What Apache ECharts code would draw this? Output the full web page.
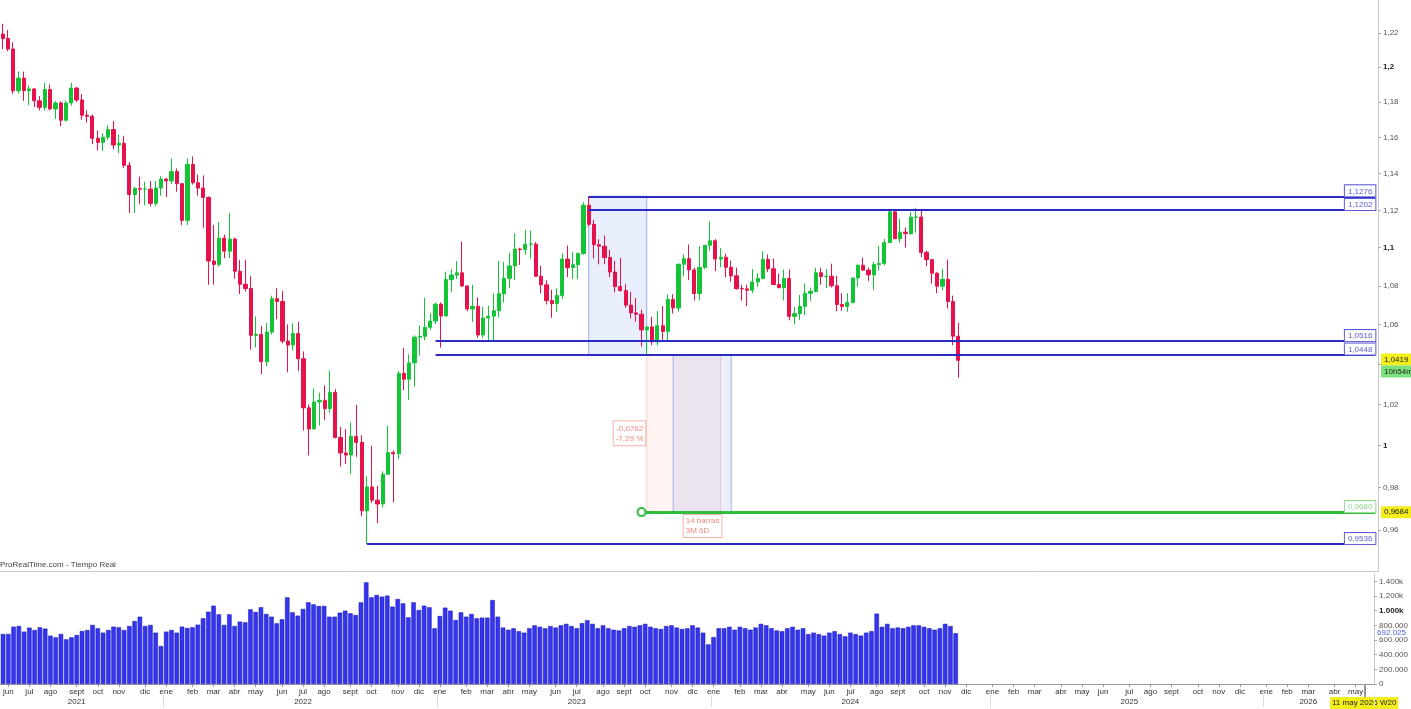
<!DOCTYPE html>
<html>
<head>
<meta charset="utf-8">
<title>EUR/USD semanal</title>
<script src="https://cdn.jsdelivr.net/npm/echarts@6/dist/echarts.min.js"></script>
<style>
  html, body { margin: 0; padding: 0; background: #fff; }
  #main { width: 1411px; height: 709px; }
</style>
</head>
<body>
<div id="main"></div>
<script>
// velas semanales, primera semana 31 may 2021 (lunes)
var firstWeek = '2021-05-31';
var totalWeeks = 261; // eje hasta mayo 2026

var opens = [
  1.2193,1.2167,1.2106,1.1864,1.1937,1.1865,1.1875,1.1807,1.1770,1.1871,
  1.1761,1.1795,1.1697,1.1795,1.1880,1.1812,1.1725,1.1719,1.1596,1.1573,
  1.1602,1.1645,1.1558,1.1568,1.1446,1.1286,1.1318,1.1315,1.1315,1.1238,
  1.1321,1.1370,1.1360,1.1411,1.1345,1.1146,1.1450,1.1350,1.1321,1.1270,
  1.0930,1.0912,1.1051,1.0982,1.1046,1.0876,1.0808,1.0786,1.0545,1.0550,
  1.0412,1.0562,1.0733,1.0719,1.0516,1.0496,1.0554,1.0427,1.0183,1.0080,
  1.0212,1.0220,1.0180,1.0259,1.0039,0.9964,0.9954,1.0044,1.0015,0.9690,
  0.9802,0.9740,0.9722,0.9862,0.9966,0.9960,1.0354,1.0325,1.0406,1.0536,
  1.0540,1.0586,1.0618,1.0705,1.0644,1.0832,1.0856,1.0868,1.0799,1.0680,
  1.0694,1.0547,1.0634,1.0643,1.0671,1.0759,1.0839,1.0904,1.0993,1.0991,
  1.1019,1.1019,1.0850,1.0805,1.0723,1.0708,1.0750,1.0940,1.0895,1.0910,
  1.0969,1.1228,1.1125,1.1016,1.1008,1.0948,1.0872,1.0796,1.0775,1.0700,
  1.0660,1.0653,1.0573,1.0588,1.0512,1.0594,1.0565,1.0729,1.0685,1.0913,
  1.0942,1.0883,1.0760,1.0896,1.1013,1.1037,1.0940,1.0950,1.0897,1.0852,
  1.0785,1.0784,1.0777,1.0820,1.0838,1.0938,1.0889,1.0807,1.0790,1.0838,
  1.0642,1.0656,1.0693,1.0761,1.0771,1.0868,1.0848,1.0850,1.0800,1.0703,
  1.0693,1.0713,1.0841,1.0908,1.0882,1.0857,1.0911,1.0917,1.1027,1.1192,
  1.1048,1.1083,1.1075,1.1163,1.1164,1.0975,1.0937,1.0866,1.0798,1.0834,
  1.0719,1.0541
];
var highs = [
  1.2254,1.2218,1.2145,1.1975,1.1975,1.1895,1.1880,1.1834,1.1909,1.1900,
  1.1805,1.1805,1.1809,1.1909,1.1885,1.1846,1.1753,1.1730,1.1640,1.1624,
  1.1669,1.1692,1.1616,1.1610,1.1464,1.1328,1.1383,1.1355,1.1360,1.1360,
  1.1386,1.1376,1.1483,1.1428,1.1346,1.1484,1.1495,1.1395,1.1390,1.1275,
  1.1121,1.1137,1.1070,1.1185,1.1054,1.0935,1.0937,1.0850,1.0642,1.0593,
  1.0607,1.0749,1.0787,1.0774,1.0601,1.0606,1.0615,1.0464,1.0200,1.0278,
  1.0258,1.0294,1.0368,1.0275,1.0090,1.0079,1.0112,1.0198,1.0050,0.9853,
  0.9999,0.9807,0.9876,1.0094,0.9976,1.0364,1.0481,1.0449,1.0545,1.0595,
  1.0737,1.0658,1.0713,1.0713,1.0874,1.0887,1.0929,1.1033,1.0802,1.0805,
  1.0740,1.0691,1.0697,1.0760,1.0930,1.0925,1.0973,1.1076,1.1000,1.1095,
  1.1092,1.1030,1.0905,1.0829,1.0779,1.0787,1.0970,1.1012,1.0976,1.0975,
  1.1244,1.1276,1.1149,1.1045,1.1065,1.0988,1.0930,1.0945,1.0809,1.0768,
  1.0737,1.0677,1.0590,1.0640,1.0669,1.0695,1.0756,1.0756,1.0914,1.0965,
  1.1017,1.0895,1.1009,1.1013,1.1140,1.1046,1.0998,1.0968,1.0932,1.0895,
  1.0805,1.0805,1.0888,1.0866,1.0981,1.0964,1.0942,1.0865,1.0885,1.0885,
  1.0690,1.0752,1.0812,1.0791,1.0895,1.0895,1.0888,1.0916,1.0852,1.0761,
  1.0762,1.0843,1.0910,1.0948,1.0895,1.0926,1.1009,1.1047,1.1202,1.1201,
  1.1155,1.1108,1.1190,1.1214,1.1209,1.0985,1.0940,1.0871,1.0888,1.0937,
  1.0749,1.0609
];
var lows = [
  1.2104,1.2093,1.1847,1.1848,1.1807,1.1782,1.1772,1.1752,1.1752,1.1753,
  1.1705,1.1664,1.1690,1.1780,1.1800,1.1700,1.1684,1.1563,1.1529,1.1525,
  1.1586,1.1535,1.1513,1.1432,1.1186,1.1186,1.1235,1.1227,1.1222,1.1221,
  1.1279,1.1272,1.1342,1.1301,1.1121,1.1121,1.1340,1.1280,1.1106,1.0806,
  1.0806,1.0900,1.0944,1.0945,1.0837,1.0757,1.0770,1.0472,1.0483,1.0350,
  1.0389,1.0549,1.0627,1.0505,1.0359,1.0469,1.0366,1.0072,0.9952,1.0079,
  1.0097,1.0123,1.0159,1.0034,0.9899,0.9911,0.9864,0.9945,0.9666,0.9536,
  0.9727,0.9632,0.9705,0.9860,0.9730,0.9935,1.0270,1.0223,1.0289,1.0443,
  1.0519,1.0573,1.0603,1.0483,1.0643,1.0766,1.0835,1.0795,1.0669,1.0613,
  1.0533,1.0533,1.0516,1.0516,1.0636,1.0713,1.0788,1.0831,1.0909,1.0964,
  1.0942,1.0847,1.0760,1.0703,1.0635,1.0666,1.0731,1.0845,1.0835,1.0834,
  1.0963,1.1113,1.0943,1.0912,1.0913,1.0845,1.0766,1.0770,1.0686,1.0631,
  1.0615,1.0488,1.0448,1.0495,1.0495,1.0522,1.0516,1.0656,1.0667,1.0852,
  1.0829,1.0723,1.0724,1.0887,1.0986,1.0877,1.0897,1.0844,1.0822,1.0780,
  1.0723,1.0695,1.0762,1.0795,1.0834,1.0872,1.0803,1.0788,1.0724,1.0622,
  1.0601,1.0624,1.0650,1.0723,1.0766,1.0805,1.0788,1.0791,1.0668,1.0671,
  1.0666,1.0710,1.0796,1.0878,1.0825,1.0777,1.0881,1.0907,1.1025,1.1047,
  1.1026,1.1001,1.1068,1.1081,1.0950,1.0903,1.0811,1.0761,1.0778,1.0682,
  1.0496,1.0332
];
var closes = [
  1.2167,1.2106,1.1864,1.1937,1.1865,1.1875,1.1807,1.1770,1.1871,1.1761,
  1.1795,1.1697,1.1795,1.1880,1.1812,1.1725,1.1719,1.1596,1.1573,1.1602,
  1.1645,1.1558,1.1568,1.1446,1.1286,1.1318,1.1315,1.1315,1.1238,1.1321,
  1.1370,1.1360,1.1411,1.1345,1.1146,1.1450,1.1350,1.1321,1.1270,1.0930,
  1.0912,1.1051,1.0982,1.1046,1.0876,1.0808,1.0786,1.0545,1.0550,1.0412,
  1.0562,1.0733,1.0719,1.0516,1.0496,1.0554,1.0427,1.0183,1.0080,1.0212,
  1.0220,1.0180,1.0259,1.0039,0.9964,0.9954,1.0044,1.0015,0.9690,0.9802,
  0.9740,0.9722,0.9862,0.9966,0.9960,1.0354,1.0325,1.0406,1.0536,1.0540,
  1.0586,1.0618,1.0705,1.0644,1.0832,1.0856,1.0868,1.0799,1.0680,1.0694,
  1.0547,1.0634,1.0643,1.0671,1.0759,1.0839,1.0904,1.0993,1.0991,1.1019,
  1.1019,1.0850,1.0805,1.0723,1.0708,1.0750,1.0940,1.0895,1.0910,1.0969,
  1.1228,1.1125,1.1016,1.1008,1.0948,1.0872,1.0796,1.0775,1.0700,1.0660,
  1.0653,1.0573,1.0588,1.0512,1.0594,1.0565,1.0729,1.0685,1.0913,1.0942,
  1.0883,1.0760,1.0896,1.1013,1.1037,1.0940,1.0950,1.0897,1.0852,1.0785,
  1.0784,1.0777,1.0820,1.0838,1.0938,1.0889,1.0807,1.0790,1.0838,1.0642,
  1.0656,1.0693,1.0761,1.0771,1.0868,1.0848,1.0850,1.0800,1.0703,1.0693,
  1.0713,1.0841,1.0908,1.0882,1.0857,1.0911,1.0917,1.1027,1.1192,1.1048,
  1.1083,1.1075,1.1163,1.1164,1.0975,1.0937,1.0866,1.0798,1.0834,1.0719,
  1.0541,1.0419
];
// volumen en miles
var volumes = [
  682,682,782,791,714,768,736,773,755,659,
  636,682,609,636,668,723,736,805,759,700,
  736,782,773,736,791,859,918,791,805,700,
  518,714,736,700,782,764,773,809,896,986,
  1068,950,805,950,791,850,841,1018,982,1046,
  955,918,827,882,1182,977,932,1023,1114,1086,
  1064,1064,918,918,973,1000,964,941,1114,1386,
  1182,1214,1191,1205,1055,1159,1100,909,1114,1009,
  1068,1046,759,927,1041,1000,873,977,918,955,
  896,905,905,1145,918,770,740,760,720,700,
  760,800,780,760,790,770,800,820,790,760,
  830,870,820,760,800,760,740,730,760,790,
  780,800,820,780,760,750,790,800,770,750,
  760,800,770,700,540,640,760,760,780,740,
  780,760,740,770,820,800,760,730,720,760,
  780,740,760,680,700,680,660,700,720,680,
  650,700,680,660,700,720,960,780,820,760,
  770,760,780,800,800,780,760,740,760,820,
  790,692
];

var months = ['ene','feb','mar','abr','may','jun','jul','ago','sept','oct','nov','dic'];
var yearUnder = { 2021: 8, 2022: 6, 2023: 6, 2024: 6, 2025: 6, 2026: 2 };

var priceTicks = [0.96,0.98,1,1.02,1.04,1.06,1.08,1.1,1.12,1.14,1.16,1.18,1.2,1.22,1.24];
var priceLabels = [0.96,0.98,1,1.02,1.06,1.08,1.1,1.12,1.14,1.16,1.18,1.2,1.22,1.24];
var volTicks = [0,200,400,600,800,1000,1200,1400];

var levelPrices = [1.1276, 1.1202, 1.0516, 1.0448, 0.9536];
var levelStart = [111, 111, 82, 82, 69];
var targetPrice = 0.9684, targetStart = 121, targetText = '0,9680';
var lastPrice = 1.0419, timeLeft = '10h54m';
var lastVolume = '692.025';
var cursorText = '11 may 2026 W20';

// categorias: lunes de cada semana
var weeks = [];
var t0 = Date.parse(firstWeek + 'T00:00:00Z');
for (var i = 0; i < totalWeeks; i++) {
  weeks.push(new Date(t0 + i * 7 * 86400000).toISOString().slice(0, 10));
}
function isMonthStart(i) {
  return +weeks[i].slice(8, 10) <= 7;
}
function isYearStart(i) {
  return weeks[i].slice(5, 7) === '01' && isMonthStart(i);
}
function fmt(p) { return p.toFixed(4).replace('.', ','); }

var ln = Math.log;
var candles = opens.map(function (o, i) {
  return [ln(o), ln(closes[i]), ln(lows[i]), ln(highs[i])];
});
var lastIdx = totalWeeks - 1;

var blue = '#2a2ac4';
var hidden = { color: 'rgba(0,0,0,0)', width: 0 };
var boxLabel = function (txt, col) {
  return {
    show: true, position: 'insideEndTop', distance: 0,
    formatter: txt, color: col, fontSize: 8,
    backgroundColor: '#fff', borderColor: col, borderWidth: 1,
    padding: [2, 3, 1, 3]
  };
};

var levelLines = levelPrices.map(function (p, i) {
  return [
    { coord: [levelStart[i], ln(p)], lineStyle: { color: blue, width: 2, type: 'solid' },
      label: boxLabel(fmt(p), '#5a5ad6') },
    { coord: [lastIdx, ln(p)] }
  ];
});

var chart = echarts.init(document.getElementById('main'));
var font = 'Arial, "Liberation Sans", sans-serif';

chart.setOption({
  animation: false,
  textStyle: { fontFamily: font },
  title: {
    text: 'ProRealTime.com - Tiempo Real', left: 0, top: 561, padding: 0,
    textStyle: { fontSize: 8, fontWeight: 'normal', color: '#444' }
  },
  grid: [
    { left: 0, right: 33, top: 0, height: 571 },
    { left: 0, right: 33, top: 574, height: 110 }
  ],
  xAxis: [
    { type: 'category', gridIndex: 0, data: weeks, position: 'bottom',
      axisLine: { show: true, onZero: false, lineStyle: { color: '#c8c8c8' } },
      axisTick: { show: false }, axisLabel: { show: false } },
    { type: 'category', gridIndex: 1, data: weeks, position: 'bottom',
      axisLine: { show: true, onZero: false, lineStyle: { color: '#999' } },
      axisTick: { show: true, alignWithLabel: true, length: 3, interval: function (i) { return isMonthStart(i); },
        lineStyle: { color: '#999' } },
      axisLabel: {
        interval: function (i) { return isMonthStart(i); },
        margin: 3,
        formatter: function (v) {
          var m = +v.slice(5, 7) - 1, y = +v.slice(0, 4);
          var s = '{m|' + months[m] + '}';
          if (yearUnder[y] === m) s += '\n{y|' + y + '}';
          return s;
        },
        rich: {
          m: { fontSize: 8, color: '#333', lineHeight: 10 },
          y: { fontSize: 8, color: '#333', lineHeight: 10 }
        }
      } },
    { type: 'category', gridIndex: 1, data: weeks, position: 'bottom', offset: 11,
      axisLine: { show: false, onZero: false },
      axisTick: { show: true, length: 12, interval: function (i) { return isYearStart(i); },
        lineStyle: { color: '#ddd' } },
      axisLabel: { show: false } }
  ],
  yAxis: [
    { type: 'value', gridIndex: 0, position: 'right',
      min: ln(0.9413), max: ln(1.2395),
      axisLine: { show: true, lineStyle: { color: '#c8c8c8' } },
      axisTick: { show: true, length: 3, customValues: priceTicks.map(ln), lineStyle: { color: '#aaa' } },
      splitLine: { show: false },
      axisLabel: {
        customValues: priceLabels.map(ln), margin: 5,
        formatter: function (v) {
          var p = Math.round(Math.exp(v) * 100) / 100;
          var s = String(p).replace('.', ',');
          return (Math.abs(p * 10 - Math.round(p * 10)) < 1e-6) ? '{b|' + s + '}' : '{n|' + s + '}';
        },
        rich: {
          n: { fontSize: 8, color: '#555' },
          b: { fontSize: 8, color: '#222', fontWeight: 'bold' }
        }
      } },
    { type: 'value', gridIndex: 1, position: 'right', min: 0, max: 1500,
      axisLine: { show: true, lineStyle: { color: '#c8c8c8' } },
      axisTick: { show: true, length: 3, customValues: volTicks, lineStyle: { color: '#aaa' } },
      splitLine: { show: false },
      axisLabel: {
        customValues: volTicks, margin: 5,
        formatter: function (v) {
          if (v === 0) return '{n|0}';
          if (v >= 1000) {
            var s = Math.floor(v / 1000) + '.' + String(v % 1000).padStart(3, '0') + 'k';
            return v === 1000 ? '{b|' + s + '}' : '{n|' + s + '}';
          }
          return '{n|' + v + '.000}';
        },
        rich: {
          n: { fontSize: 8, color: '#555' },
          b: { fontSize: 8, color: '#222', fontWeight: 'bold' }
        }
      } }
  ],
  series: [
    {
      type: 'candlestick', name: 'EUR/USD', xAxisIndex: 0, yAxisIndex: 0,
      data: candles, barWidth: '70%',
      itemStyle: { color: '#13c437', color0: '#e5124c', borderColor: '#13c437', borderColor0: '#e5124c', borderWidth: 1 },
      markArea: {
        silent: true,
        data: [
          [{ coord: [111, ln(1.1276)], itemStyle: { color: 'rgba(110,150,235,0.16)', borderColor: 'rgba(90,120,225,0.55)', borderWidth: 1 } },
           { coord: [122, ln(1.0448)] }],
          [{ coord: [122, ln(1.0448)], itemStyle: { color: 'rgba(255,170,150,0.13)', borderColor: '#f2a49c', borderWidth: 1, borderType: 'dotted' },
             label: { show: true, position: 'left', distance: 1, formatter: '-0,0762\n-7,29 %', color: '#f08a80', fontSize: 8, lineHeight: 10,
               borderColor: '#f5b4ac', borderWidth: 1, padding: [2, 2], backgroundColor: '#fff', align: 'right' } },
           { coord: [136, ln(targetPrice)] }],
          [{ coord: [127, ln(1.0448)], itemStyle: { color: 'rgba(120,140,230,0.15)', borderColor: 'rgba(100,125,225,0.55)', borderWidth: 1 } },
           { coord: [138, ln(targetPrice)] }],
          [{ coord: [122, ln(1.0448)], itemStyle: { color: 'rgba(0,0,0,0)', borderWidth: 0 },
             label: { show: true, position: 'bottom', distance: 3, formatter: '14 barras\n3M 6D', color: '#f08a80', fontSize: 8, lineHeight: 10,
               borderColor: '#f5b4ac', borderWidth: 1, padding: [1, 2], backgroundColor: '#fff', align: 'left' } },
           { coord: [136, ln(targetPrice)] }]
        ]
      },
      markLine: {
        silent: true, symbol: ['none', 'none'],
        data: levelLines.concat([
          [{ coord: [targetStart, ln(targetPrice)], symbol: 'emptyCircle', symbolSize: 8,
             lineStyle: { color: '#2dbf3c', width: 3, type: 'solid' },
             label: boxLabel(targetText, '#8fd88f') },
           { coord: [lastIdx, ln(targetPrice)], symbol: 'none' }],
          { yAxis: ln(targetPrice), lineStyle: hidden,
            label: { show: true, position: 'end', distance: 3, padding: [9, 0, 0, 0],
              formatter: '{a|' + fmt(targetPrice) + '}',
              rich: { a: { fontSize: 8, color: '#222', backgroundColor: '#f3ee1a', padding: [2, 3], width: 30 } } } },
          { yAxis: ln(lastPrice), lineStyle: hidden,
            label: { show: true, position: 'end', distance: 3, padding: [6, 0, 0, 0],
              formatter: '{a|' + fmt(lastPrice) + '}\n{g|' + timeLeft + '}',
              rich: {
                a: { fontSize: 8, color: '#222', backgroundColor: '#f3ee1a', padding: [2, 3], width: 30 },
                g: { fontSize: 8, color: '#222', backgroundColor: '#7ce37c', padding: [2, 3], width: 30 }
              } } }
        ])
      }
    },
    {
      type: 'bar', name: 'Volumen', xAxisIndex: 1, yAxisIndex: 1,
      data: volumes, barCategoryGap: '15%',
      itemStyle: { color: '#3434f2', borderColor: '#1515a6', borderWidth: 0.5 },
      markLine: {
        silent: true, symbol: ['none', 'none'],
        data: [{ yAxis: 692, lineStyle: hidden,
          label: { show: true, position: 'end', distance: 3, formatter: lastVolume, fontSize: 8, color: '#4a5fe0',
            backgroundColor: '#fff' } }]
      }
    }
  ],
  graphic: [
    { type: 'line', shape: { x1: 1365, y1: 684, x2: 1365, y2: 697 }, style: { stroke: '#333', lineWidth: 1 } },
    { type: 'text', left: 1330, top: 697,
      style: { text: cursorText, fontSize: 8, fill: '#222', backgroundColor: '#f3ee1a', padding: [2, 2], fontFamily: font } }
  ]
});
</script>
</body>
</html>
